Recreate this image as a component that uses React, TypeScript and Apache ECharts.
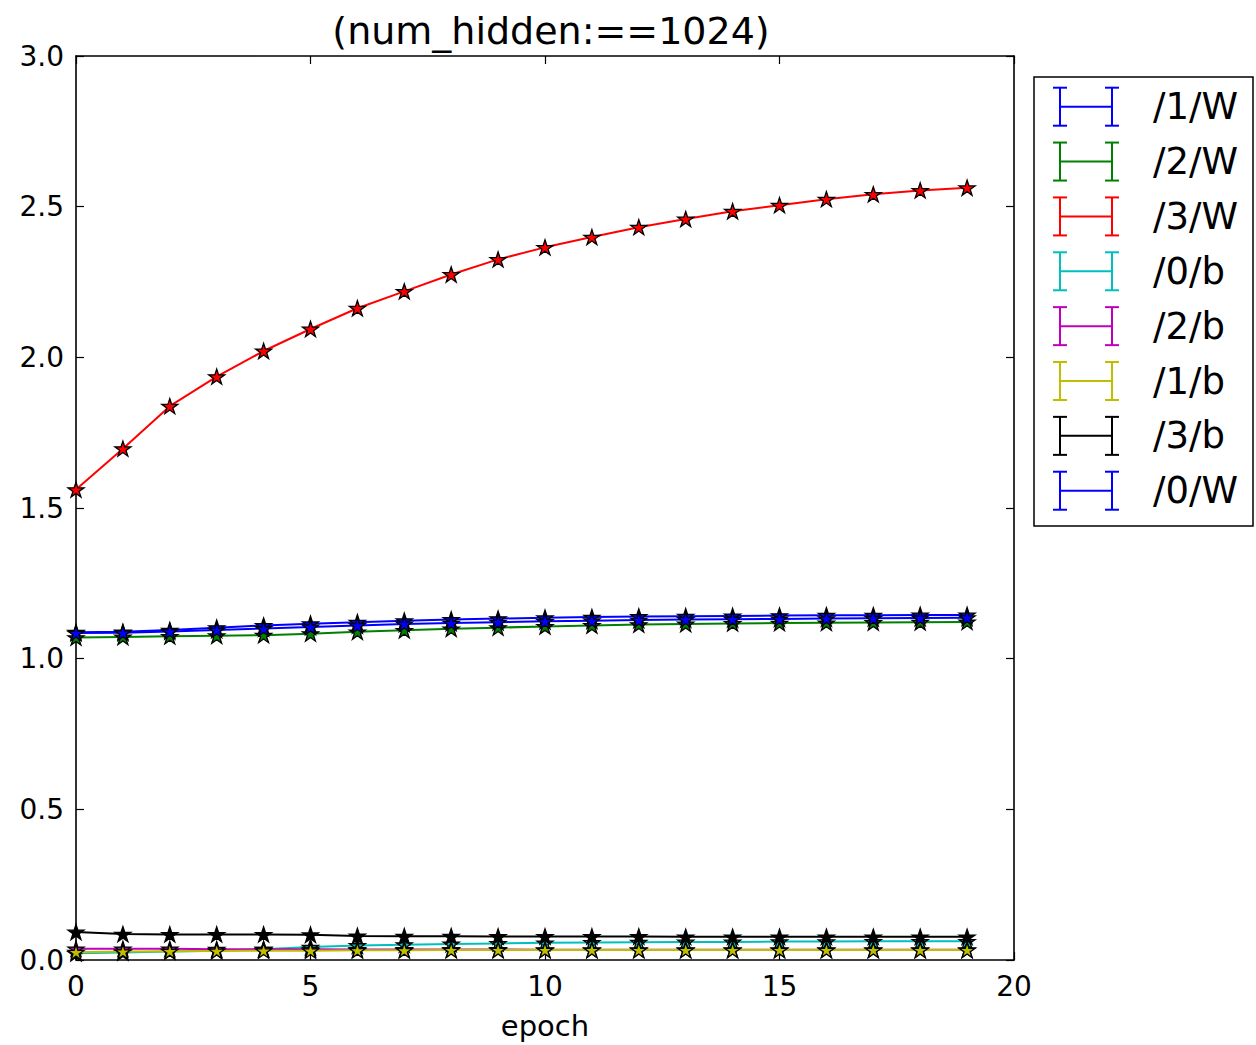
import React, { useEffect, useRef } from "react";
import * as echarts from "echarts";

const epochs: number[] = Array.from({ length: 20 }, (_, i) => i);

const seriesNames: string[] = ["/1/W", "/2/W", "/3/W", "/0/b", "/2/b", "/1/b", "/3/b", "/0/W"];
const seriesColors: string[] = ["#0000ff", "#008000", "#ff0000", "#00bfbf", "#bf00bf", "#bfbf00", "#000000", "#0000ff"];

const w1: number[] = [1.088, 1.089, 1.095, 1.103, 1.110, 1.116, 1.121, 1.126, 1.130, 1.133, 1.136, 1.138, 1.140, 1.141, 1.142, 1.143, 1.144, 1.144, 1.145, 1.145];
const w2: number[] = [1.070, 1.072, 1.074, 1.076, 1.078, 1.083, 1.089, 1.094, 1.099, 1.103, 1.107, 1.110, 1.113, 1.115, 1.117, 1.118, 1.119, 1.120, 1.121, 1.122];
const w3: number[] = [1.561, 1.697, 1.838, 1.936, 2.021, 2.094, 2.163, 2.219, 2.275, 2.325, 2.365, 2.399, 2.432, 2.459, 2.485, 2.505, 2.525, 2.541, 2.554, 2.563];
const b0: number[] = [0.022, 0.025, 0.028, 0.031, 0.036, 0.043, 0.048, 0.051, 0.053, 0.055, 0.057, 0.058, 0.059, 0.060, 0.060, 0.061, 0.061, 0.062, 0.062, 0.062];
const b2: number[] = [0.037, 0.037, 0.037, 0.036, 0.036, 0.036, 0.035, 0.035, 0.035, 0.035, 0.034, 0.034, 0.034, 0.034, 0.034, 0.034, 0.034, 0.034, 0.034, 0.034];
const b1: number[] = [0.026, 0.028, 0.029, 0.030, 0.031, 0.031, 0.032, 0.032, 0.033, 0.033, 0.033, 0.033, 0.033, 0.033, 0.033, 0.033, 0.033, 0.033, 0.033, 0.033];
const b3: number[] = [0.093, 0.086, 0.085, 0.085, 0.085, 0.084, 0.080, 0.079, 0.079, 0.078, 0.078, 0.078, 0.078, 0.077, 0.077, 0.077, 0.077, 0.077, 0.077, 0.077];
const w0: number[] = [1.085, 1.086, 1.090, 1.095, 1.100, 1.105, 1.110, 1.115, 1.118, 1.121, 1.124, 1.126, 1.128, 1.130, 1.131, 1.132, 1.133, 1.134, 1.135, 1.136];

const seriesValues: number[][] = [w1, w2, w3, b0, b2, b1, b3, w0];

const xTicks = { min: 0, max: 20, interval: 5 };
const yTicks = { min: 0, max: 3, interval: 0.5 };

const FONT = "DejaVu Sans";
const STAR =
  "path://M50,0 L61.2,34.5 L97.6,34.5 L68.2,55.9 L79.4,90.5 L50,69.1 L20.6,90.5 L31.8,55.9 L2.4,34.5 L38.8,34.5 Z";

export default function App() {
  const ref = useRef<HTMLDivElement>(null);

  useEffect(() => {
    if (!ref.current) return;
    const chart = echarts.init(ref.current, undefined, { renderer: "svg" });

    const series = seriesNames.map((name, i) => ({
      name,
      type: "line",
      data: epochs.map((e, j) => [e, seriesValues[i][j]]),
      symbol: STAR,
      symbolSize: [16, 15],
      showSymbol: true,
      lineStyle: { color: seriesColors[i], width: 2 },
      itemStyle: { color: seriesColors[i], borderColor: "#000", borderWidth: 1.3 },
      z: 2 + i,
    }));

    const legendTop = 106.7;
    const legendStep = 54.86;
    const legendEls: any[] = [
      {
        type: "rect",
        shape: { x: 1034, y: 77, width: 219, height: 449 },
        style: { fill: "#fff", stroke: "#000", lineWidth: 1.5 },
        z: 10,
      },
    ];
    seriesNames.forEach((name, i) => {
      const cy = legendTop + i * legendStep;
      const c = seriesColors[i];
      const st = { stroke: c, lineWidth: 2 };
      const lines = [
        [1060, cy, 1112, cy],
        [1060, cy - 19, 1060, cy + 19],
        [1112, cy - 19, 1112, cy + 19],
        [1053, cy - 19, 1067, cy - 19],
        [1053, cy + 19, 1067, cy + 19],
        [1105, cy - 19, 1119, cy - 19],
        [1105, cy + 19, 1119, cy + 19],
      ];
      lines.forEach((l) =>
        legendEls.push({
          type: "line",
          shape: { x1: l[0], y1: l[1], x2: l[2], y2: l[3] },
          style: st,
          z: 11,
        })
      );
      legendEls.push({
        type: "text",
        x: 1153,
        y: cy,
        style: {
          text: name,
          fontSize: 37,
          fontFamily: FONT,
          fill: "#000",
          verticalAlign: "middle",
          align: "left",
        },
        z: 11,
      });
    });

    const axisLine = { show: true, onZero: false, lineStyle: { color: "#000", width: 1.6 } };
    const tick = { show: true, inside: true, length: 8, lineStyle: { color: "#000", width: 1.2 } };

    chart.setOption({
      animation: false,
      backgroundColor: "#fff",
      title: {
        text: "(num_hidden:==1024)",
        left: 551,
        top: 12,
        textAlign: "center",
        padding: 0,
        textStyle: { fontFamily: FONT, fontSize: 38, fontWeight: "normal", color: "#000" },
      },
      grid: { left: 76, right: 242, top: 56, bottom: 82, containLabel: false },
      xAxis: [
        {
          type: "value",
          ...xTicks,
          position: "bottom",
          axisLine,
          axisTick: tick,
          splitLine: { show: false },
          axisLabel: { fontFamily: FONT, fontSize: 28, color: "#000", margin: 12 },
          name: "epoch",
          nameLocation: "middle",
          nameGap: 51,
          nameTextStyle: { fontFamily: FONT, fontSize: 29, color: "#000" },
        },
        {
          type: "value",
          ...xTicks,
          position: "top",
          axisLine,
          axisTick: tick,
          splitLine: { show: false },
          axisLabel: { show: false },
        },
      ],
      yAxis: [
        {
          type: "value",
          ...yTicks,
          position: "left",
          axisLine,
          axisTick: tick,
          splitLine: { show: false },
          axisLabel: {
            fontFamily: FONT,
            fontSize: 28,
            color: "#000",
            margin: 12,
            formatter: (v: number) => v.toFixed(1),
          },
        },
        {
          type: "value",
          ...yTicks,
          position: "right",
          axisLine,
          axisTick: tick,
          splitLine: { show: false },
          axisLabel: { show: false },
        },
      ],
      series,
      graphic: legendEls,
    });

    return () => chart.dispose();
  }, []);

  return (
    <div
      ref={ref}
      style={{ position: "absolute", left: 0, top: 0, width: 1256, height: 1045 }}
    />
  );
}
